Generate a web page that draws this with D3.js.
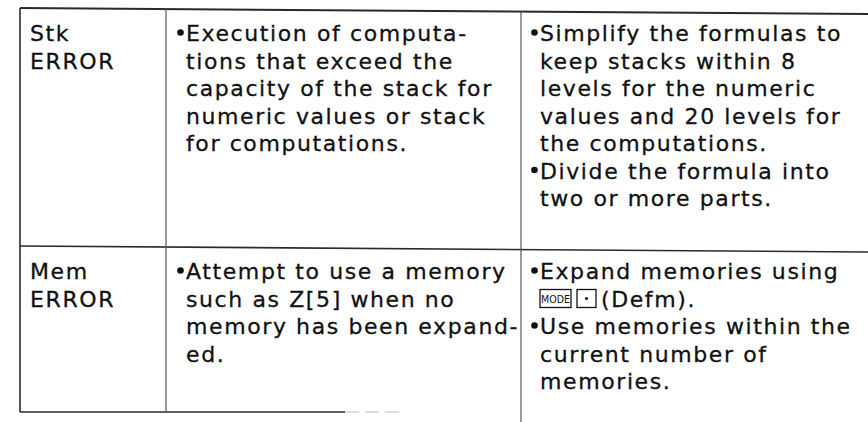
<!DOCTYPE html>
<html><head><meta charset="utf-8">
<script src="https://cdn.jsdelivr.net/npm/d3@7"></script>
<style>html,body{margin:0;padding:0;background:#fff;} svg{display:block}</style>
</head><body><svg id="c" width="868" height="422"></svg>
<script>
// ---- data ----
const columns = ["error", "cause", "action"];
const errorNames = [["Stk", "ERROR"], ["Mem", "ERROR"]];
const causes = [
  [["Execution of computa-", "tions that exceed the", "capacity of the stack for", "numeric values or stack", "for computations."]],
  [["Attempt to use a memory", "such as Z[5] when no", "memory has been expand-", "ed."]]
];
const actions = [
  [["Simplify the formulas to", "keep stacks within 8", "levels for the numeric", "values and 20 levels for", "the computations."],
   ["Divide the formula into", "two or more parts."]],
  [["Expand memories using", "{MODE}{·} (Defm)."],
   ["Use memories within the", "current number of", "memories."]]
];

// ---- layout ----
const W = 868, H = 422;
const svg = d3.select("#c");
const FONT = "'DejaVu Sans', sans-serif";
const FS = 22, LS = 1.6, LINE = 27.5;
const ink = "#111", rule = "#2a2a2a";

const colX = d3.scaleOrdinal().domain(columns).range([20, 166, 521]);
const rowTop = d3.scaleOrdinal().domain([0, 1, 2]).range([8, 246, 412]);
const lineY = d3.scaleLinear().domain([0, 1]).range([33, 33 + LINE]);
const textPad = d3.scaleOrdinal().domain(columns).range([10, 20, 19]);
// slight skew of the scanned rules
const skew = d3.scaleLinear().domain([20, 868]).range([0, 6]);

// rules
const g = svg.append("g").attr("stroke", rule).attr("fill", "none");
g.append("line").attr("x1", colX("error")).attr("y1", rowTop(0)).attr("x2", W).attr("y2", rowTop(0) + skew(W)).attr("stroke-width", 2);
g.append("line").attr("x1", colX("error")).attr("y1", rowTop(1)).attr("x2", W).attr("y2", rowTop(1) + skew(W)).attr("stroke-width", 1.6);
g.append("line").attr("x1", colX("error")).attr("y1", rowTop(2)).attr("x2", 345).attr("y2", rowTop(2)).attr("stroke-width", 1.6);
g.append("line").attr("x1", 345).attr("y1", rowTop(2)).attr("x2", 400).attr("y2", rowTop(2)).attr("stroke-width", 1).attr("stroke", "#bbb").attr("stroke-dasharray", "14 6");
g.append("line").attr("x1", colX("error")).attr("y1", rowTop(0)).attr("x2", colX("error")).attr("y2", rowTop(2)).attr("stroke-width", 1.6);
g.append("line").attr("x1", colX("cause")).attr("y1", rowTop(0)).attr("x2", colX("cause")).attr("y2", rowTop(2)).attr("stroke-width", 1.2).attr("stroke", "#555");
g.append("line").attr("x1", colX("action")).attr("y1", rowTop(0) + skew(colX("action"))).attr("x2", colX("action")).attr("y2", H).attr("stroke-width", 1.2).attr("stroke", "#555");

function drawText(sel, x, y, str) {
  return sel.append("text").attr("x", x).attr("y", y)
    .attr("font-family", FONT).attr("font-size", FS).attr("letter-spacing", LS)
    .attr("fill", ink).attr("stroke", ink).attr("stroke-width", 0.3).text(str);
}

function drawKeyLine(sel, x, y, str) {
  const parts = str.match(/\{[^}]+\}|[^{}]+/g);
  let cx = x;
  parts.forEach(p => {
    if (p.startsWith("{")) {
      const k = p.slice(1, -1);
      if (k === "MODE") {
        sel.append("rect").attr("x", cx).attr("y", y - 17).attr("width", 31).attr("height", 18)
          .attr("fill", "none").attr("stroke", ink).attr("stroke-width", 1.3);
        sel.append("text").attr("x", cx + 15.5).attr("y", y - 3.5).attr("text-anchor", "middle")
          .attr("font-family", "'DejaVu Sans Condensed', 'DejaVu Sans', sans-serif").attr("font-size", 10.5)
          .attr("fill", ink).text("MODE");
        cx += 37;
      } else {
        sel.append("rect").attr("x", cx).attr("y", y - 17).attr("width", 19).attr("height", 18)
          .attr("fill", "none").attr("stroke", ink).attr("stroke-width", 1.3);
        sel.append("circle").attr("cx", cx + 9.5).attr("cy", y - 8).attr("r", 1.6).attr("fill", ink);
        cx += 24;
      }
    } else {
      drawText(sel, cx, y, p);
    }
  });
}

const tg = svg.append("g");
errorNames.forEach((lines, r) => {
  lines.forEach((ln, i) => drawText(tg, colX("error") + textPad("error"), rowTop(r) + lineY(i), ln));
});

function drawBullets(groups, col, r) {
  let idx = 0;
  const tx = colX(col) + textPad(col);
  groups.forEach(lines => {
    lines.forEach((ln, i) => {
      const y = rowTop(r) + lineY(idx);
      if (i === 0) tg.append("circle").attr("cx", tx - 5.5).attr("cy", y - 8.5).attr("r", 3.3).attr("fill", ink);
      if (ln.includes("{")) drawKeyLine(tg, tx, y, ln); else drawText(tg, tx, y, ln);
      idx++;
    });
  });
}
causes.forEach((groups, r) => drawBullets(groups, "cause", r));
actions.forEach((groups, r) => drawBullets(groups, "action", r));
</script>
</body></html>
